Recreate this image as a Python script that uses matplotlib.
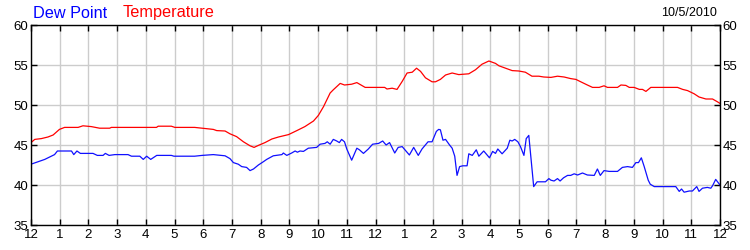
import matplotlib
matplotlib.use("Agg")
import matplotlib.pyplot as plt

plt.rcParams['font.family'] = ['Liberation Sans', 'DejaVu Sans']

# hours since midnight, values in F
temp_hours = [0, 0.13, 0.36, 0.59, 0.77, 0.99, 1.17, 1.64, 1.81, 2.10, 2.39, 2.74, 2.80,
              4.37, 4.43, 4.89, 5.01, 5.70, 5.96, 6.35, 6.47, 6.76, 6.93, 7.16, 7.40,
              7.63, 7.77, 7.92, 8.15, 8.39, 8.62, 8.97, 9.26, 9.54, 9.84, 10.01, 10.19,
              10.42, 10.53, 10.77, 10.92, 11.17, 11.35, 11.64, 12.32, 12.40, 12.58, 12.75,
              12.93, 13.10, 13.28, 13.43, 13.57, 13.74, 13.97, 14.09, 14.26, 14.44, 14.67,
              14.90, 15.25, 15.48, 15.71, 15.95, 16.18, 16.30, 16.53, 16.76, 16.99, 17.22,
              17.45, 17.69, 17.86, 18.11, 18.34, 18.57, 18.80, 18.98, 19.15, 19.38, 19.56,
              19.79, 19.96, 20.08, 20.43, 20.55, 20.72, 20.84, 21.01, 21.19, 21.30, 21.42,
              21.59, 21.82, 22.52, 22.70, 22.87, 23.10, 23.27, 23.51, 23.74, 23.91, 24.0]
temp_vals = [45.3, 45.7, 45.8, 46.0, 46.25, 46.95, 47.2, 47.2, 47.4, 47.3, 47.1, 47.1, 47.2,
             47.2, 47.35, 47.35, 47.2, 47.2, 47.1, 46.95, 46.8, 46.75, 46.4, 46.05, 45.4,
             44.9, 44.7, 44.95, 45.3, 45.75, 46.0, 46.3, 46.8, 47.3, 48.0, 48.7, 49.8,
             51.5, 51.9, 52.7, 52.5, 52.6, 52.8, 52.2, 52.2, 52.0, 52.1, 51.95,
             52.95, 54.0, 54.1, 54.6, 54.2, 53.4, 52.9, 52.9, 53.2, 53.75, 54.0,
             53.8, 53.9, 54.4, 55.1, 55.5, 55.2, 54.9, 54.6, 54.3, 54.25, 54.1,
             53.6, 53.6, 53.5, 53.45, 53.6, 53.5, 53.3, 53.2, 52.9, 52.5, 52.2,
             52.2, 52.4, 52.2, 52.2, 52.5, 52.45, 52.2, 52.2, 51.95, 51.95, 51.7,
             52.2, 52.2, 52.2, 51.95, 51.8, 51.4, 51.0, 50.75, 50.75, 50.4, 50.2]

dew_hours = [0, 0.24, 0.48, 0.71, 0.82, 0.92, 1.41, 1.49, 1.60, 1.72, 2.16, 2.31, 2.51,
             2.59, 2.72, 2.92, 3.38, 3.50, 3.79, 3.91, 4.03, 4.17, 4.38, 4.89, 4.98,
             5.70, 5.96, 6.35, 6.76, 6.93, 7.05, 7.22, 7.34, 7.51, 7.63, 7.75, 7.92,
             8.09, 8.21, 8.44, 8.74, 8.79, 8.91, 9.08, 9.20, 9.28, 9.37, 9.49, 9.66,
             9.95, 10.07, 10.24, 10.32, 10.42, 10.53, 10.65, 10.74, 10.82, 10.92, 11.0,
             11.17, 11.35, 11.44, 11.58, 11.75, 11.90, 12.11, 12.25, 12.37, 12.49, 12.67,
             12.79, 12.93, 13.18, 13.33, 13.49, 13.62, 13.83, 13.97, 14.12, 14.20, 14.26,
             14.35, 14.44, 14.58, 14.67, 14.76, 14.84, 14.93, 15.04, 15.19, 15.25, 15.37,
             15.51, 15.60, 15.77, 15.97, 16.08, 16.18, 16.26, 16.41, 16.59, 16.68, 16.76,
             16.85, 16.96, 17.05, 17.17, 17.25, 17.34, 17.51, 17.63, 17.81, 17.92, 18.04,
             18.11, 18.22, 18.34, 18.43, 18.55, 18.69, 18.80, 18.92, 19.04, 19.21, 19.38,
             19.62, 19.73, 19.83, 19.96, 20.14, 20.43, 20.60, 20.78, 20.95, 21.07, 21.16,
             21.26, 21.36, 21.50, 21.57, 21.71, 22.46, 22.58, 22.66, 22.75, 22.93, 23.04,
             23.19, 23.27, 23.39, 23.56, 23.68, 23.74, 23.85, 24.0]
dew_vals = [42.6, 42.9, 43.2, 43.6, 43.8, 44.25, 44.25, 43.8, 44.25, 43.95, 43.95, 43.7, 43.7,
            43.95, 43.7, 43.8, 43.8, 43.6, 43.6, 43.2, 43.6, 43.2, 43.7, 43.7, 43.6,
            43.6, 43.7, 43.8, 43.65, 43.3, 42.8, 42.6, 42.3, 42.2, 41.8, 42.0, 42.5,
            42.9, 43.2, 43.65, 43.8, 44.0, 43.7, 44.0, 44.25, 44.1, 44.25, 44.2, 44.6,
            44.7, 45.1, 45.2, 45.4, 45.1, 45.7, 45.5, 45.3, 45.7, 45.4, 44.5,
            43.1, 44.6, 44.4, 43.95, 44.5, 45.1, 45.2, 45.5, 45.0, 45.3, 44.0,
            44.7, 44.8, 43.75, 44.7, 43.7, 44.5, 45.4, 45.4, 46.7, 46.95, 46.9,
            45.6, 45.7, 45.0, 44.6, 43.6, 41.2, 42.3, 42.4, 42.4, 43.9, 43.7,
            44.4, 43.6, 44.25, 43.4, 44.2, 43.95, 44.5, 43.9, 44.6, 45.6, 45.5,
            45.7, 45.4, 44.8, 43.7, 45.8, 46.2, 39.8, 40.4, 40.4, 40.4, 40.8,
            40.6, 40.5, 40.8, 40.5, 40.9, 41.2, 41.2, 41.4, 41.25, 41.5, 41.25,
            41.2, 42.0, 41.2, 41.8, 41.7, 41.7, 42.2, 42.3, 42.2, 42.8, 42.8,
            43.4, 42.3, 40.6, 40.1, 39.8, 39.8, 39.2, 39.5, 39.1, 39.25, 39.25,
            39.8, 39.2, 39.6, 39.7, 39.6, 39.9, 40.7, 40.0]

hour_labels = ['12', '1', '2', '3', '4', '5', '6', '7', '8', '9', '10', '11',
               '12', '1', '2', '3', '4', '5', '6', '7', '8', '9', '10', '11', '12']
y_ticks = [35, 40, 45, 50, 55, 60]

fig = plt.figure(figsize=(7.5, 2.5), dpi=100)
ax = fig.add_axes([31/750, 25/250, 689/750, 200/250])

ax.plot(temp_hours, temp_vals, color='#ff0000', lw=0.9)
ax.plot(dew_hours, dew_vals, color='#1010ff', lw=0.9)

ax.set_xlim(0, 24)
ax.set_ylim(35, 60)
ax.set_xticks(range(25))
ax.set_xticklabels(hour_labels)
ax.set_yticks(y_ticks)
ax.grid(True, color='#cccccc', lw=1)
ax.set_axisbelow(True)
ax.tick_params(direction='in', length=4, width=1, top=True, right=True,
               labelright=True, labelsize=9.5, pad=3, colors='black')
ax.tick_params(axis='y', pad=2)
for s in ax.spines.values():
    s.set_linewidth(1)
    s.set_color('black')

fig.text(33/750, 1 - 13/250, 'Dew Point', color='#0000ff', fontsize=11.7, va='center', ha='left')
fig.text(123/750, 1 - 13/250, 'Temperature', color='#ff0000', fontsize=11.7, va='center', ha='left')
fig.text(717/750, 1 - 13/250, '10/5/2010', color='black', fontsize=9, va='center', ha='right')

fig.savefig('out.png', dpi=100)
